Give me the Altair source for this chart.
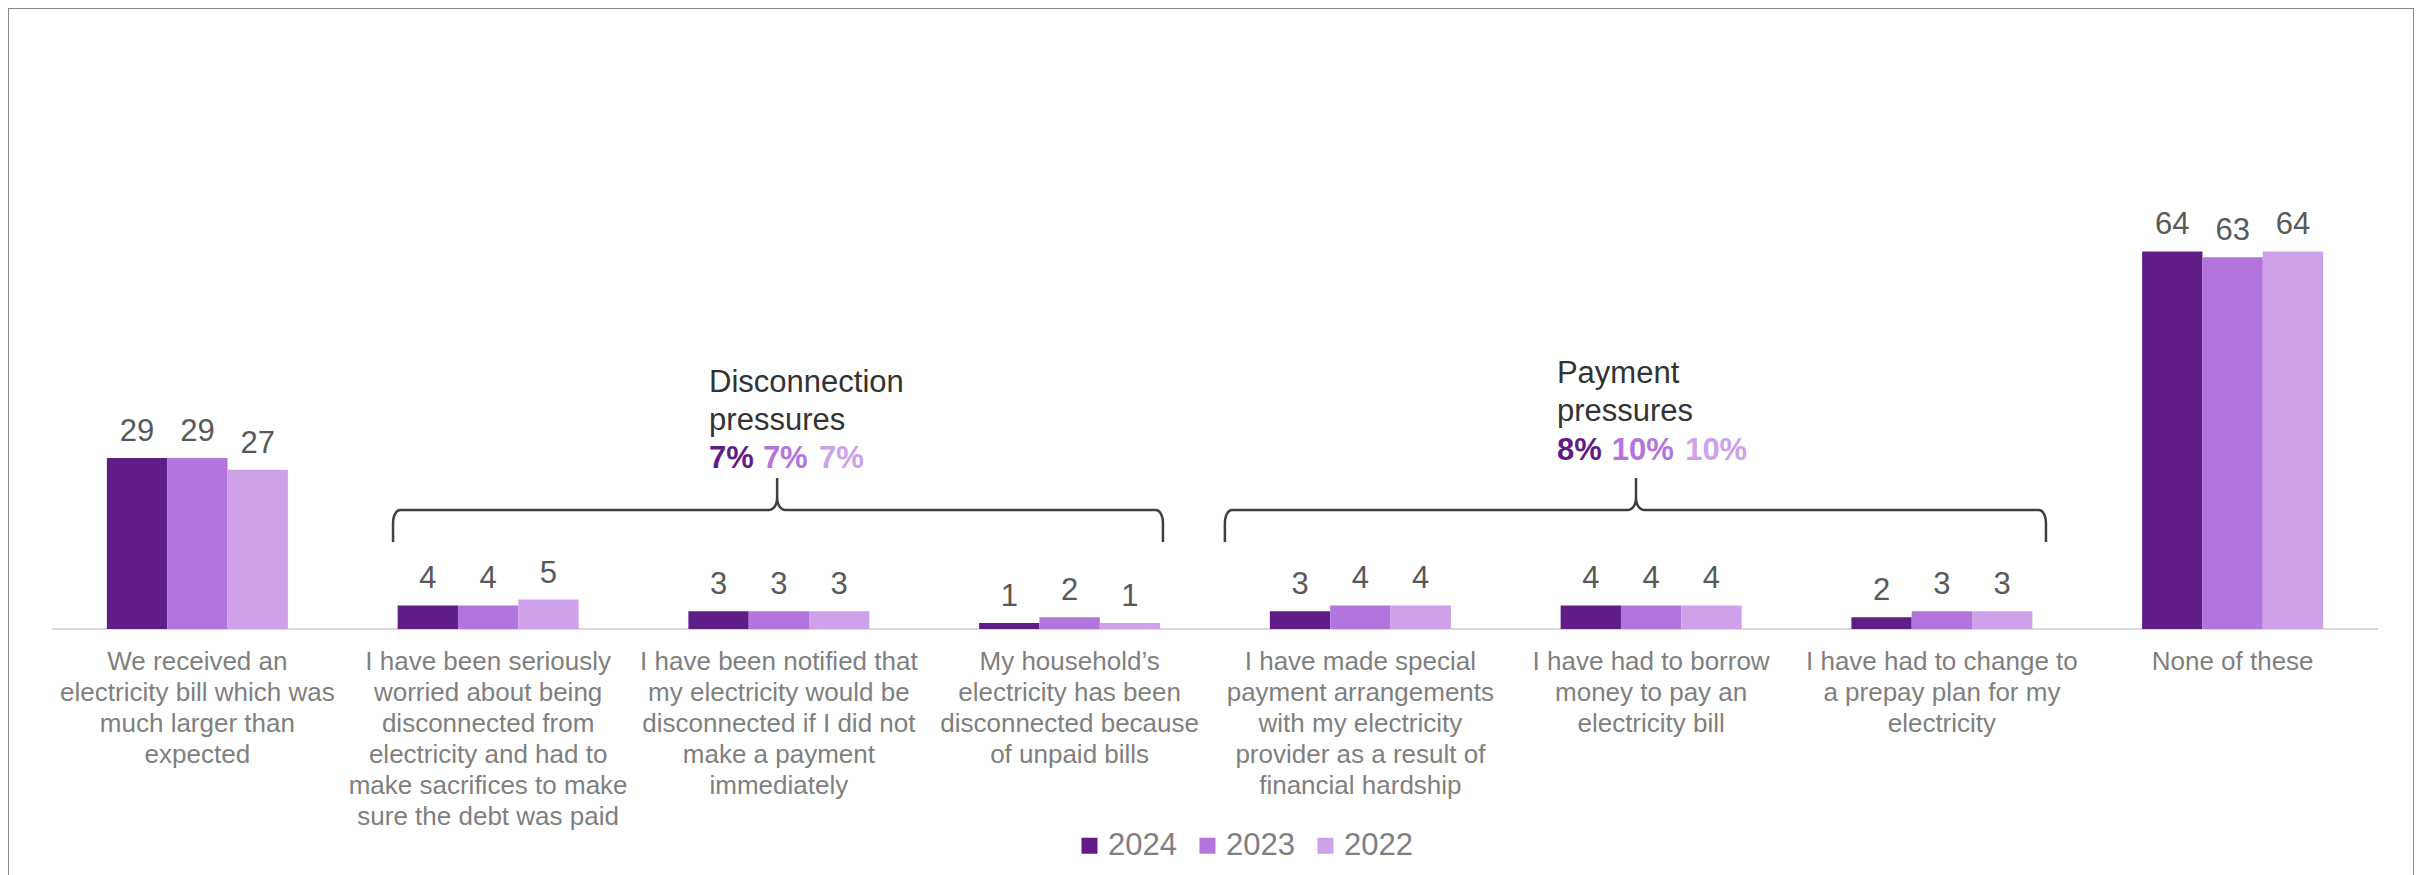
import math
import altair as alt
import pandas as pd

# ---------------- data ----------------
categories = [
    "We received an\nelectricity bill which was\nmuch larger than\nexpected",
    "I have been seriously\nworried about being\ndisconnected from\nelectricity and had to\nmake sacrifices to make\nsure the debt was paid",
    "I have been notified that\nmy electricity would be\ndisconnected if I did not\nmake a payment\nimmediately",
    "My household\u2019s\nelectricity has been\ndisconnected because\nof unpaid bills",
    "I have made special\npayment arrangements\nwith my electricity\nprovider as a result of\nfinancial hardship",
    "I have had to borrow\nmoney to pay an\nelectricity bill",
    "I have had to change to\na prepay plan for my\nelectricity",
    "None of these",
]
years = ["2024", "2023", "2022"]
values_2024 = [29, 4, 3, 1, 3, 4, 2, 64]
values_2023 = [29, 4, 3, 2, 4, 4, 3, 63]
values_2022 = [27, 5, 3, 1, 4, 4, 3, 64]
year_colors = ["#611D87", "#B474DE", "#CEA1E8"]

group_titles = ["Disconnection\npressures", "Payment\npressures"]
group_pcts_disconnection = ["7%", "7%", "7%"]
group_pcts_payment = ["8%", "10%", "10%"]

# ---------------- layout constants (category units / data units) ----------------
STEP_PX = 290.75            # pixels per category
PX = 1.0 / STEP_PX          # one pixel in category units
YPX = 5.9                   # pixels per percentage point
VY = 1.0 / YPX
BAR_W = 181.0 / 3 / STEP_PX
LABEL_Y = -6.95

X_DOMAIN = [-0.5, 7.5]
X_RANGE = [44, 2370]
Y_DOMAIN = [0, 100]
Y_RANGE = [621, 621 - 100 * YPX]

xscale = alt.Scale(domain=X_DOMAIN, range=X_RANGE)
yscale = alt.Scale(domain=Y_DOMAIN, range=Y_RANGE)

# ---------------- tables ----------------
series = [values_2024, values_2023, values_2022]
rows = []
for i, cat in enumerate(categories):
    for j, yr in enumerate(years):
        c = i + (j - 1) * BAR_W
        rows.append({"cat": cat, "idx": i, "year": yr, "value": series[j][i], "zero": 0,
                     "xc": c, "x0": c - BAR_W / 2, "x1": c + BAR_W / 2})
bars_df = pd.DataFrame(rows)
cats_df = pd.DataFrame({"cat": categories, "idx": list(range(len(categories))),
                        "ly": [LABEL_Y] * len(categories)})

# brackets
bracket_left = [0.673, 3.534]
bracket_right = [3.321, 6.358]
bracket_notch = [1.994, 4.948]
Y_H, Y_END, Y_NOTCH = 20.17, 14.75, 25.6

brows = []
for b in range(2):
    l, r, n = bracket_left[b], bracket_right[b], bracket_notch[b]
    pts = [(l, Y_END)]
    for k in range(7):
        t = math.pi / 2 * k / 6
        pts.append((l + 7 * PX * (1 - math.cos(t)), Y_H - 13 * VY + 13 * VY * math.sin(t)))
    for k in range(7):
        t = math.pi / 2 * k / 6
        pts.append((n - 8 * PX + 8 * PX * math.sin(t), Y_H + 12 * VY * (1 - math.cos(t))))
    pts.append((n, Y_NOTCH))
    for k in range(6, -1, -1):
        t = math.pi / 2 * k / 6
        pts.append((n + 8 * PX - 8 * PX * math.sin(t), Y_H + 12 * VY * (1 - math.cos(t))))
    for k in range(6, -1, -1):
        t = math.pi / 2 * k / 6
        pts.append((r - 7 * PX * (1 - math.cos(t)), Y_H - 13 * VY + 13 * VY * math.sin(t)))
    pts.append((r, Y_END))
    for o, (px_, py_) in enumerate(pts):
        brows.append({"b": b, "o": o, "x": px_, "y": py_})
brackets_df = pd.DataFrame(brows)

titles_df = pd.DataFrame({"text": group_titles, "x": [1.760, 4.676], "y": [40.17, 41.7]})
pct_df = pd.DataFrame({
    "text": group_pcts_disconnection + group_pcts_payment,
    "x": [1.760, 1.945, 2.138, 4.676, 4.865, 5.117],
    "y": [27.29] * 3 + [28.6] * 3,
    "color": year_colors + year_colors,
})
base_df = pd.DataFrame({"x": [X_DOMAIN[0]], "x2": [X_DOMAIN[1]], "y": [0]})

# ---------------- layers ----------------
baseline = alt.Chart(base_df).mark_rule(color="#d9d9d9", strokeWidth=2).encode(
    x=alt.X("x:Q", scale=xscale, axis=None),
    x2="x2:Q",
    y=alt.Y("y:Q", scale=yscale, axis=None),
)

bars = alt.Chart(bars_df).mark_rect().encode(
    x=alt.X("x0:Q", scale=xscale, axis=None),
    x2="x1:Q",
    y=alt.Y("value:Q", scale=yscale, axis=None),
    y2="zero:Q",
    color=alt.Color(
        "year:N",
        sort=years,
        scale=alt.Scale(domain=years, range=year_colors),
        legend=alt.Legend(
            orient="none", legendX=1066, legendY=822, direction="horizontal",
            title=None, symbolType="square", symbolSize=256, symbolStrokeWidth=0,
            labelFontSize=31, labelColor="#7f7f7f", labelOffset=3,
            columnPadding=15, padding=0, symbolOpacity=1,
        ),
    ),
)

value_labels = alt.Chart(bars_df).mark_text(
    dy=-17, baseline="alphabetic", align="center", fontSize=31, color="#595959"
).encode(
    x=alt.X("xc:Q", scale=xscale, axis=None),
    y=alt.Y("value:Q", scale=yscale, axis=None),
    text="value:Q",
)

cat_labels = alt.Chart(cats_df).mark_text(
    align="center", baseline="alphabetic", fontSize=26, lineHeight=31,
    lineBreak="\n", color="#7f7f7f",
).encode(
    x=alt.X("idx:Q", scale=xscale, axis=None),
    y=alt.Y("ly:Q", scale=yscale, axis=None),
    text="cat:N",
)

bracket_lines = alt.Chart(brackets_df).mark_line(
    color="#404040", strokeWidth=2.5, interpolate="linear"
).encode(
    x=alt.X("x:Q", scale=xscale, axis=None),
    y=alt.Y("y:Q", scale=yscale, axis=None),
    detail="b:N",
    order="o:Q",
)

group_title_text = alt.Chart(titles_df).mark_text(
    align="left", baseline="alphabetic", fontSize=31, lineHeight=38,
    lineBreak="\n", color="#333333",
).encode(
    x=alt.X("x:Q", scale=xscale, axis=None),
    y=alt.Y("y:Q", scale=yscale, axis=None),
    text="text:N",
)

pct_text = alt.Chart(pct_df).mark_text(
    align="left", baseline="alphabetic", fontSize=31, fontWeight="bold"
).encode(
    x=alt.X("x:Q", scale=xscale, axis=None),
    y=alt.Y("y:Q", scale=yscale, axis=None),
    text="text:N",
    color=alt.Color("color:N", scale=None),
)

chart = alt.layer(
    baseline, bars, value_labels, cat_labels, bracket_lines, group_title_text, pct_text
).properties(
    width=2406, height=870, padding=0
).configure(
    font="Liberation Sans"
).configure_view(
    stroke="#898989", strokeWidth=2
)

chart.save("out.html", embed_options={"renderer": "svg", "actions": False})
